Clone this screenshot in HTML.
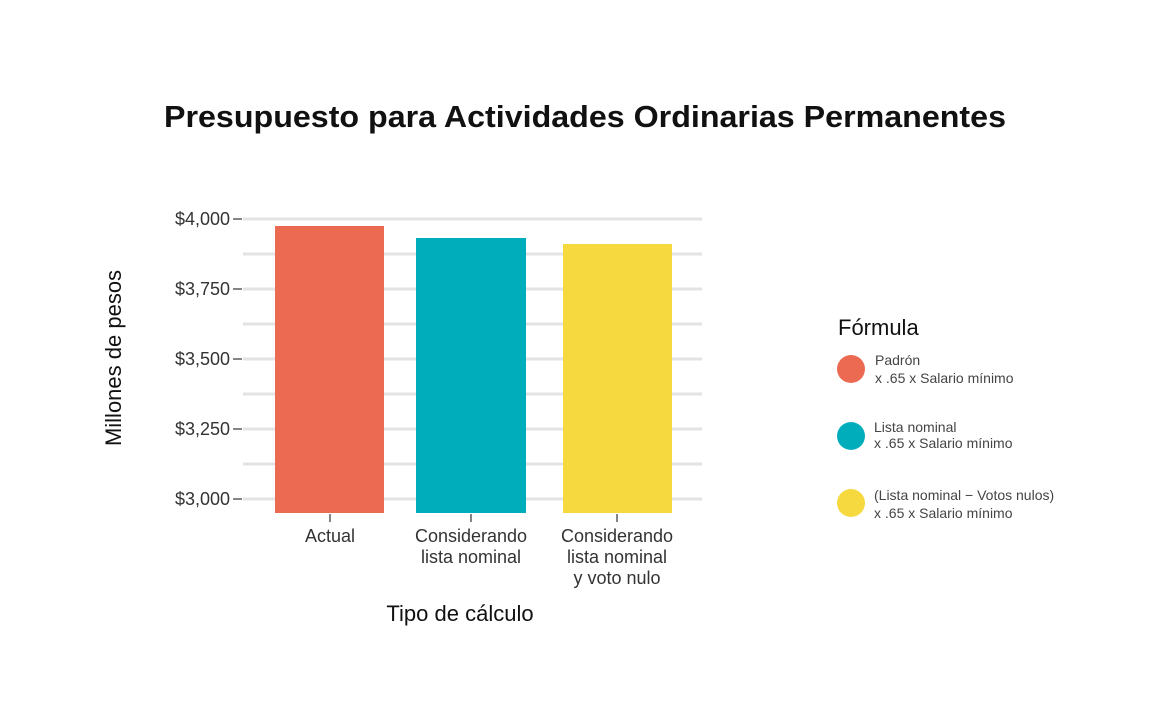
<!DOCTYPE html>
<html><head><style>
body{margin:0;background:#fff;}
svg text{font-family:"Liberation Sans",sans-serif;}
</style></head><body>
<svg width="1170" height="700" viewBox="0 0 1170 700" xmlns="http://www.w3.org/2000/svg">
<rect width="1170" height="700" fill="#fff"/>
<text x="164" y="127" font-size="31" font-weight="bold" fill="#111" textLength="842" lengthAdjust="spacingAndGlyphs">Presupuesto para Actividades Ordinarias Permanentes</text>
<g stroke="#e3e3e3" stroke-width="3">
<line x1="243" x2="702" y1="219" y2="219"/><line x1="243" x2="702" y1="254" y2="254"/>
<line x1="243" x2="702" y1="289" y2="289"/><line x1="243" x2="702" y1="324" y2="324"/>
<line x1="243" x2="702" y1="359" y2="359"/><line x1="243" x2="702" y1="394" y2="394"/>
<line x1="243" x2="702" y1="429" y2="429"/><line x1="243" x2="702" y1="464" y2="464"/>
<line x1="243" x2="702" y1="499" y2="499"/>
</g>
<g stroke="#333" stroke-width="1.2">
<line x1="233" x2="242" y1="219" y2="219"/><line x1="233" x2="242" y1="289" y2="289"/>
<line x1="233" x2="242" y1="359" y2="359"/><line x1="233" x2="242" y1="429" y2="429"/>
<line x1="233" x2="242" y1="499" y2="499"/>
<line x1="330" x2="330" y1="514" y2="522"/><line x1="471" x2="471" y1="514" y2="522"/><line x1="617" x2="617" y1="514" y2="522"/>
</g>
<g font-size="18" fill="#333" text-anchor="end">
<text x="230" y="225">$4,000</text><text x="230" y="295">$3,750</text>
<text x="230" y="365">$3,500</text><text x="230" y="435">$3,250</text>
<text x="230" y="505">$3,000</text>
</g>
<rect x="275" y="226" width="109" height="287" fill="#ec6952"/>
<rect x="416" y="238" width="110" height="275" fill="#00adbb"/>
<rect x="563" y="244" width="109" height="269" fill="#f5d93f"/>
<g font-size="18" fill="#333" text-anchor="middle">
<text x="330" y="542">Actual</text>
<text x="471" y="542">Considerando</text><text x="471" y="563">lista nominal</text>
<text x="617" y="542">Considerando</text><text x="617" y="563">lista nominal</text><text x="617" y="584">y voto nulo</text>
</g>
<text x="460" y="621" text-anchor="middle" font-size="22" fill="#111">Tipo de cálculo</text>
<text transform="translate(121,358) rotate(-90)" text-anchor="middle" font-size="22" fill="#111">Millones de pesos</text>
<text x="838" y="335" font-size="22" fill="#111">Fórmula</text>
<circle cx="851" cy="369" r="14" fill="#ec6952"/>
<circle cx="851" cy="436" r="14" fill="#00adbb"/>
<circle cx="851" cy="503" r="14" fill="#f5d93f"/>
<g font-size="14" fill="#444">
<text x="875" y="365">Padrón</text><text x="875" y="383"> x .65 x Salario mínimo</text>
<text x="874" y="432">Lista nominal</text><text x="874" y="448"> x .65 x Salario mínimo</text>
<text x="874" y="500">(Lista nominal − Votos nulos)</text><text x="874" y="518"> x .65 x Salario mínimo</text>
</g>
</svg>
</body></html>
